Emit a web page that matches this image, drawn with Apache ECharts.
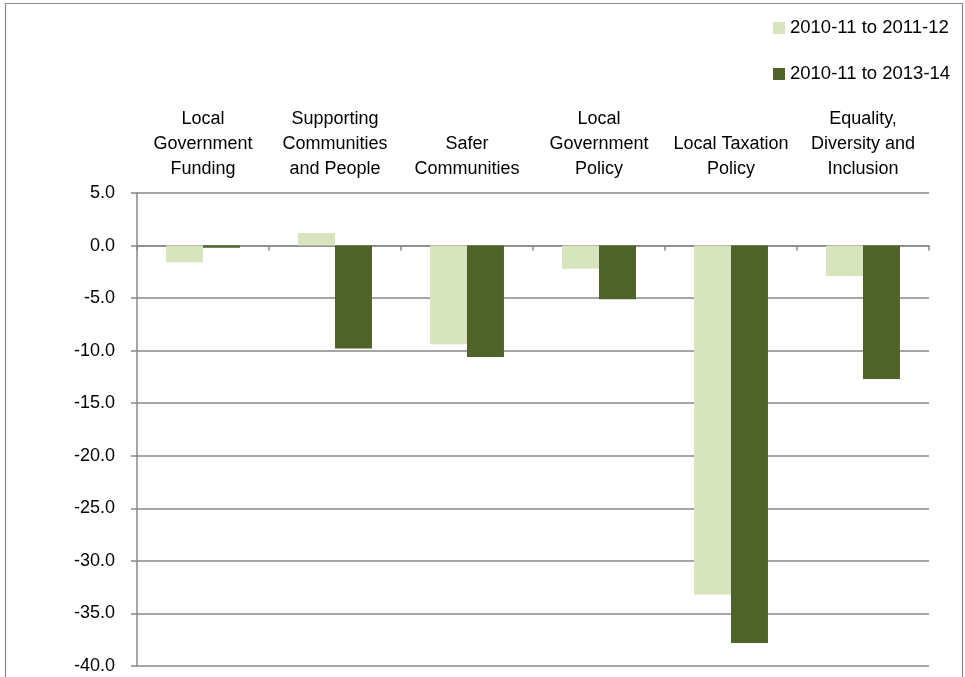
<!DOCTYPE html>
<html>
<head>
<meta charset="utf-8">
<style>
  html, body { margin: 0; padding: 0; background: #ffffff; }
  #chart { width: 965px; height: 677px; }
</style>
<script src="https://cdn.jsdelivr.net/npm/echarts@6/dist/echarts.min.js"></script>
</head>
<body>
<div id="chart"></div>
<script>
const categories = [
  "Local\nGovernment\nFunding",
  "Supporting\nCommunities\nand People",
  "Safer\nCommunities",
  "Local\nGovernment\nPolicy",
  "Local Taxation\nPolicy",
  "Equality,\nDiversity and\nInclusion"
];
const seriesNames = ["2010-11 to 2011-12", "2010-11 to 2013-14"];
const values2011_12 = [-1.6, 1.2, -9.4, -2.2, -33.2, -2.9];
const values2013_14 = [-0.2, -9.8, -10.6, -5.1, -37.8, -12.7];
const yMin = -40, yMax = 5, yStep = 5;

const FONT = "Liberation Sans";
const GRAY = "#888888";
const chart = echarts.init(document.getElementById('chart'));
chart.setOption({
  animation: false,
  backgroundColor: '#ffffff',
  textStyle: { fontFamily: FONT },
  graphic: [{
    type: 'rect',
    shape: { x: 5.5, y: 3.5, width: 957, height: 720 },
    style: { fill: 'none', stroke: GRAY, lineWidth: 1.2 },
    silent: true,
    z: -1
  }],
  legend: {
    orient: 'vertical',
    left: 768,
    top: 12,
    itemWidth: 12,
    itemHeight: 12,
    itemGap: 24,
    icon: 'rect',
    textStyle: { fontFamily: FONT, fontSize: 18.5, color: '#000', lineHeight: 22 },
    data: seriesNames
  },
  grid: { left: 137, right: 36, top: 193, bottom: 11, containLabel: false },
  xAxis: [{
    type: 'category',
    data: categories,
    position: 'top',
    axisLine: { show: false, onZero: false },
    axisTick: { show: false },
    axisLabel: {
      interval: 0,
      margin: 11,
      fontFamily: FONT, fontSize: 18, color: '#000', lineHeight: 25,
      align: 'center'
    },
    splitLine: { show: false }
  }, {
    type: 'category',
    data: categories,
    position: 'bottom',
    axisLine: { show: true, onZero: true, lineStyle: { color: GRAY, width: 1.5 } },
    axisTick: { show: true, length: 5, lineStyle: { color: GRAY, width: 1.5 } },
    axisLabel: { show: false },
    splitLine: { show: false }
  }],
  yAxis: {
    type: 'value',
    min: yMin, max: yMax, interval: yStep,
    axisLine: { show: true, lineStyle: { color: GRAY, width: 1.5 } },
    axisTick: { show: true, length: 6, lineStyle: { color: GRAY, width: 1.5 } },
    axisLabel: {
      margin: 22,
      fontFamily: FONT, fontSize: 18, color: '#000',
      formatter: v => v.toFixed(1)
    },
    splitLine: { show: true, lineStyle: { color: GRAY, width: 1.5 } }
  },
  series: [{
    name: seriesNames[0],
    type: 'bar',
    xAxisIndex: 0,
    data: values2011_12,
    barGap: '0%',
    barCategoryGap: '44%',
    itemStyle: { color: '#D7E4BD' },
    z: 3
  }, {
    name: seriesNames[1],
    type: 'bar',
    xAxisIndex: 0,
    data: values2013_14,
    barGap: '0%',
    barCategoryGap: '44%',
    itemStyle: { color: '#4F6228' },
    z: 3
  }]
});
</script>
</body>
</html>
